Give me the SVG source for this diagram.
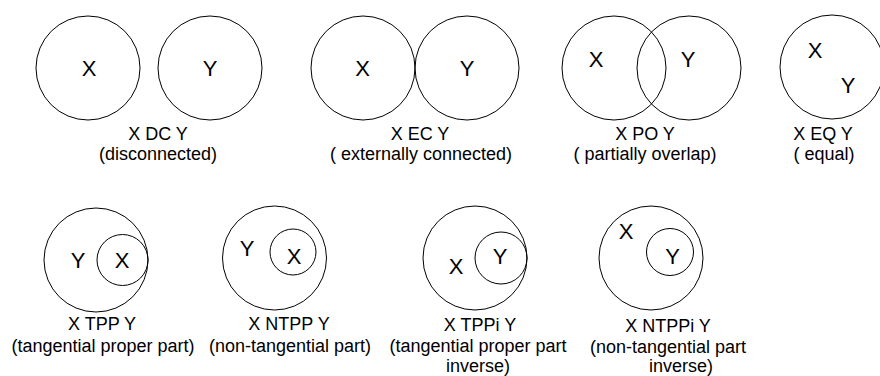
<svg xmlns="http://www.w3.org/2000/svg" width="880" height="376" viewBox="0 0 880 376">
<style>
circle{fill:none;stroke:#000;stroke-width:1}
text{font-family:"Liberation Sans",Arial,sans-serif;fill:#000;text-anchor:middle}
.v{font-size:22px}
.l{font-size:18px}
</style>
<rect width="880" height="376" fill="#fff"/>
<g id="dc">
<circle cx="88" cy="68" r="52"/><circle cx="210" cy="68" r="52"/>
<text class="v" x="89" y="75.5">X</text><text class="v" x="210" y="75.5">Y</text>
<text class="l" x="158" y="140">X DC Y</text>
<text class="l" x="158" y="160">(disconnected)</text>
</g>
<g id="ec">
<circle cx="363" cy="68" r="52"/><circle cx="467" cy="68" r="52"/>
<text class="v" x="362.5" y="75.5">X</text><text class="v" x="467" y="75.5">Y</text>
<text class="l" x="420" y="140">X EC Y</text>
<text class="l" x="421" y="160">( externally connected)</text>
</g>
<g id="po">
<circle cx="614" cy="68" r="52"/><circle cx="689" cy="68" r="52"/>
<text class="v" x="596" y="67">X</text><text class="v" x="688" y="67">Y</text>
<text class="l" x="645" y="140">X PO Y</text>
<text class="l" x="645" y="160">( partially overlap)</text>
</g>
<g id="eq">
<circle cx="832" cy="67" r="52"/>
<text class="v" x="815" y="57.5">X</text><text class="v" x="848" y="92.5">Y</text>
<text class="l" x="823" y="140">X EQ Y</text>
<text class="l" x="824" y="160">( equal)</text>
</g>
<g id="tpp">
<circle cx="96" cy="260" r="52"/><circle cx="122.5" cy="260" r="25.5"/>
<text class="v" x="78" y="267.5">Y</text><text class="v" x="122" y="267.5">X</text>
<text class="l" x="102" y="330">X TPP Y</text>
<text class="l" x="103" y="352">(tangential proper part)</text>
</g>
<g id="ntpp">
<circle cx="274.5" cy="258" r="52"/><circle cx="293" cy="252" r="23"/>
<text class="v" x="247" y="256">Y</text><text class="v" x="294" y="263.5">X</text>
<text class="l" x="289" y="330">X NTPP Y</text>
<text class="l" x="290" y="352">(non-tangential part)</text>
</g>
<g id="tppi">
<circle cx="475" cy="258" r="52"/><circle cx="501" cy="258" r="26"/>
<text class="v" x="456" y="273.5">X</text><text class="v" x="500" y="264">Y</text>
<text class="l" x="480" y="330.5">X TPPi Y</text>
<text class="l" x="478" y="352">(tangential proper part</text>
<text class="l" x="478" y="371.5">inverse)</text>
</g>
<g id="ntppi">
<circle cx="651" cy="258" r="52"/><circle cx="670" cy="252" r="23.5"/>
<text class="v" x="626" y="239">X</text><text class="v" x="672.5" y="264">Y</text>
<text class="l" x="668" y="331.5">X NTPPi Y</text>
<text class="l" x="668" y="353">(non-tangential part</text>
<text class="l" x="681" y="372">inverse)</text>
</g>
<g id="connectors"/>
</svg>
